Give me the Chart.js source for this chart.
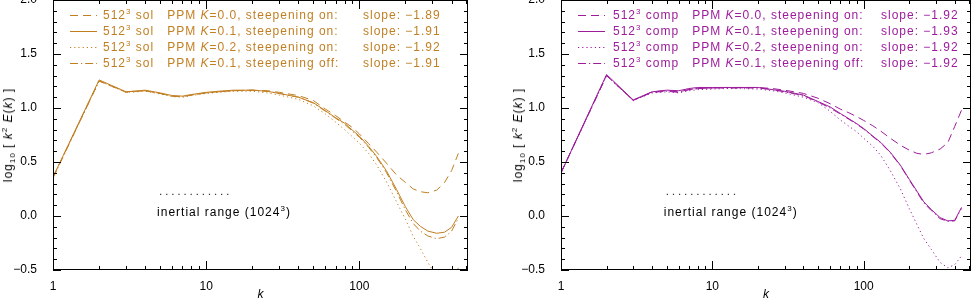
<!DOCTYPE html>
<html>
<head>
<meta charset="utf-8">
<script src="https://cdn.jsdelivr.net/npm/chart.js@4.4.1/dist/chart.umd.min.js"></script>
<style>
  body { margin: 0; background: #fff; }
  #wrap { position: relative; width: 978px; height: 302px; overflow: hidden; font-family: "Liberation Sans", Arial, sans-serif; }
  .panel { position: absolute; top: 0; width: 489px; height: 302px; }
  .leg { position: absolute; left: 0; height: 16px; line-height: 16px; font-size: 12px; letter-spacing: 1px; white-space: pre; }
  .leg svg, .leg span { position: absolute; top: 0; }
  sup { font-size: 8px; vertical-align: 5px; line-height: 0; }
  sub { font-size: 8px; vertical-align: -3px; line-height: 0; }
  .ytitle { position: absolute; font-size: 12px; letter-spacing: 1px; white-space: pre; color: #000;
            transform: translate(-50%, -50%) rotate(-90deg); }
  .note { position: absolute; font-size: 12px; letter-spacing: 1px; white-space: pre; color: #000; }
</style>
</head>
<body>
<div id="wrap">
  <div class="panel" id="pSol" style="left:0"><canvas id="cSol" width="489" height="302"></canvas></div>
  <div class="panel" id="pComp" style="left:489px"><canvas id="cComp" width="489" height="302"></canvas></div>
</div>
<script>
const kValues = [1, 2, 3, 4, 5, 6, 7, 8, 10, 12, 15, 20, 25, 30, 40, 50, 60, 70, 80, 90,
                 100, 115, 130, 150, 175, 200, 225, 250, 280, 320, 360, 400, 443];

// log10 k^2 E(k), solenoidal forcing
const solK00on  = [0.36, 1.25, 1.145, 1.16, 1.135, 1.11, 1.105, 1.12, 1.14, 1.15, 1.16, 1.165, 1.16, 1.145, 1.115, 1.07, 0.99, 0.93, 0.87, 0.82,
                   0.76, 0.67, 0.59, 0.49, 0.38, 0.31, 0.25, 0.225, 0.215, 0.24, 0.31, 0.42, 0.58];
const solK01on  = [0.36, 1.26, 1.15, 1.165, 1.14, 1.115, 1.11, 1.125, 1.145, 1.155, 1.165, 1.165, 1.155, 1.135, 1.10, 1.05, 0.975, 0.91, 0.86, 0.795,
                   0.74, 0.645, 0.55, 0.42, 0.245, 0.085, -0.035, -0.095, -0.14, -0.16, -0.15, -0.105, 0.0];
const solK02on  = [0.36, 1.25, 1.145, 1.155, 1.13, 1.105, 1.10, 1.115, 1.135, 1.145, 1.155, 1.155, 1.14, 1.12, 1.08, 1.02, 0.945, 0.87, 0.80, 0.735,
                   0.675, 0.58, 0.47, 0.32, 0.13, -0.03, -0.19, -0.30, -0.43, -0.56, -0.62, -0.60, -0.48];
const solK01off = [0.35, 1.25, 1.15, 1.16, 1.135, 1.11, 1.105, 1.12, 1.14, 1.15, 1.16, 1.165, 1.155, 1.135, 1.10, 1.045, 0.97, 0.905, 0.85, 0.785,
                   0.73, 0.635, 0.54, 0.405, 0.225, 0.055, -0.07, -0.14, -0.185, -0.21, -0.195, -0.14, -0.02];

// log10 k^2 E(k), compressive forcing
const compK00on  = [0.40, 1.30, 1.07, 1.15, 1.16, 1.15, 1.17, 1.18, 1.185, 1.19, 1.19, 1.19, 1.18, 1.165, 1.135, 1.09, 1.04, 0.99, 0.955, 0.92,
                    0.885, 0.835, 0.785, 0.72, 0.655, 0.61, 0.58, 0.57, 0.585, 0.62, 0.68, 0.83, 0.98];
const compK01on  = [0.40, 1.31, 1.075, 1.15, 1.165, 1.16, 1.18, 1.19, 1.19, 1.19, 1.19, 1.19, 1.17, 1.155, 1.12, 1.06, 1.01, 0.95, 0.90, 0.855,
                    0.81, 0.74, 0.68, 0.59, 0.47, 0.34, 0.23, 0.13, 0.06, -0.015, -0.045, -0.04, 0.08];
const compK02on  = [0.40, 1.30, 1.07, 1.14, 1.15, 1.14, 1.16, 1.17, 1.175, 1.18, 1.18, 1.175, 1.16, 1.14, 1.10, 1.05, 0.97, 0.89, 0.83, 0.78,
                    0.72, 0.645, 0.56, 0.42, 0.25, 0.07, -0.08, -0.21, -0.31, -0.43, -0.48, -0.45, -0.37];
const compK01off = [0.40, 1.30, 1.07, 1.145, 1.155, 1.145, 1.17, 1.18, 1.185, 1.185, 1.185, 1.185, 1.17, 1.15, 1.115, 1.055, 1.0, 0.945, 0.895, 0.85,
                    0.805, 0.735, 0.675, 0.585, 0.465, 0.335, 0.22, 0.12, 0.05, -0.025, -0.05, -0.045, 0.07];

const kappas = ['0.0', '0.1', '0.2', '0.1'];
const steepening = ['on:', 'on:', 'on:', 'off:'];
const solSlopes = ['\u22121.89', '\u22121.91', '\u22121.92', '\u22121.91'];
const compSlopes = ['\u22121.92', '\u22121.93', '\u22121.92', '\u22121.92'];

// inertial range marker
const inertialK = [5, 15];
const inertialY = [0.2, 0.2];

const xTicks = [1, 10, 100];
const FONT = '"Liberation Sans", Arial, sans-serif';
const dashes = [[8, 5], [], [1.2, 3], [8, 3, 1.2, 3]];

// no label overhang padding: the plot box sits at fixed pixels
function noPad(s) {
  s.paddingTop = 0; s.paddingBottom = 0; s.paddingLeft = 0; s.paddingRight = 0;
}

// box around the plot with inward major/minor ticks on all four sides
const frame = {
  id: 'frame',
  afterDatasetsDraw(chart) {
    const { ctx, chartArea: a, scales: { x, y } } = chart;
    ctx.save();
    ctx.strokeStyle = '#000';
    ctx.lineWidth = 1;
    ctx.strokeRect(a.left + 0.5, a.top + 0.5, a.right - a.left - 1, a.bottom - a.top - 1);
    ctx.beginPath();
    for (let v = -5; v <= 20; v++) {
      const py = Math.round(y.getPixelForValue(v / 10)) + 0.5;
      const len = v % 5 === 0 ? 8 : 4;
      ctx.moveTo(a.left, py); ctx.lineTo(a.left + len, py);
      ctx.moveTo(a.right, py); ctx.lineTo(a.right - len, py);
    }
    for (const d of [1, 10, 100]) {
      for (let m = 1; m < 10; m++) {
        const v = d * m;
        if (v > x.max) break;
        const px = Math.round(x.getPixelForValue(v)) + 0.5;
        const len = m === 1 ? 9 : 4;
        ctx.moveTo(px, a.bottom); ctx.lineTo(px, a.bottom - len);
        ctx.moveTo(px, a.top); ctx.lineTo(px, a.top + len);
      }
    }
    ctx.stroke();
    ctx.restore();
  }
};

function makePanel(p) {
  const panel = document.getElementById(p.panel);
  const canvas = document.getElementById(p.canvas);

  const datasets = p.series.map((vals, i) => ({
    data: kValues.map((k, j) => ({ x: k, y: vals[j] })),
    borderColor: p.color,
    borderWidth: 1,
    borderDash: dashes[i],
    pointRadius: 0,
    fill: false,
    tension: 0
  }));
  datasets.push({
    data: inertialK.map((k, j) => ({ x: k, y: inertialY[j] })),
    borderColor: '#333',
    borderWidth: 1.2,
    borderDash: [1.2, 4.9],
    pointRadius: 0
  });

  const chart = new Chart(canvas, {
    type: 'line',
    data: { datasets },
    options: {
      responsive: false,
      animation: false,
      events: [],
      layout: { autoPadding: false, padding: { left: 0, right: p.padR, top: 0, bottom: 0 } },
      plugins: { legend: { display: false }, tooltip: { enabled: false } },
      scales: {
        x: {
          type: 'logarithmic', min: 1, max: 512,
          grid: { display: false }, border: { display: false },
          afterBuildTicks: s => { s.ticks = xTicks.map(v => ({ value: v })); },
          afterFit: s => { s.height = 32; noPad(s); },
          ticks: { color: '#000', font: { size: 12, family: FONT }, padding: 1, maxRotation: 0, autoSkip: false,
                   callback: v => String(v) },
          title: { display: true, text: 'k', color: '#000', font: { size: 12, style: 'italic', family: FONT }, padding: 0 }
        },
        y: {
          min: -0.5, max: 2.0,
          grid: { display: false }, border: { display: false },
          afterFit: s => { s.width = p.axisW; noPad(s); },
          ticks: { stepSize: 0.5, color: '#000', font: { size: 12, family: FONT }, padding: 8,
                   callback: v => (v < 0 ? '\u2212' : '') + Math.abs(v).toFixed(1) }
        }
      }
    },
    plugins: [frame]
  });

  // legend
  p.series.forEach((_, i) => {
    const row = document.createElement('div');
    row.className = 'leg';
    row.style.top = (7 + 16 * i) + 'px';
    row.style.color = p.color;
    row.style.width = '480px';
    const dash = dashes[i].length ? ` stroke-dasharray="${dashes[i].join(' ')}"` : '';
    row.innerHTML =
      `<svg style="left:${p.sampleX}px" width="27" height="16"><line x1="0" y1="8.5" x2="27" y2="8.5" stroke="${p.color}" stroke-width="1"${dash}/></svg>` +
      `<span style="left:${p.labelX}px">512<sup>3</sup> ${p.name}   PPM <i>K</i>=${kappas[i]}, steepening ${steepening[i]}</span>` +
      `<span style="left:${p.slopeX}px">slope: ${p.slopes[i]}</span>`;
    panel.appendChild(row);
  });

  // y-axis title
  const yt = document.createElement('div');
  yt.className = 'ytitle';
  yt.style.left = p.titleX + 'px';
  yt.style.top = '135px';
  yt.innerHTML = 'log<sub>10</sub> [ <i>k</i><sup>2</sup> <i>E</i>(<i>k</i>) ]';
  panel.appendChild(yt);

  // inertial range note
  const note = document.createElement('div');
  note.className = 'note';
  note.innerHTML = 'inertial range (1024<sup>3</sup>)';
  note.style.left = (chart.scales.x.getPixelForValue(inertialK[0]) - 3) + 'px';
  note.style.top = (chart.scales.y.getPixelForValue(0.03) - 8) + 'px';
  panel.appendChild(note);
}

makePanel({ panel: 'pSol', canvas: 'cSol', axisW: 53, padR: 21, color: '#C27F22', name: 'sol',
            series: [solK00on, solK01on, solK02on, solK01off], slopes: solSlopes,
            sampleX: 70, labelX: 103, slopeX: 363, titleX: 8 });
makePanel({ panel: 'pComp', canvas: 'cComp', axisW: 72, padR: 7, color: '#9C1C9C', name: 'comp',
            series: [compK00on, compK01on, compK02on, compK01off], slopes: compSlopes,
            sampleX: 89, labelX: 124, slopeX: 392, titleX: 29 });
</script>
</body>
</html>
